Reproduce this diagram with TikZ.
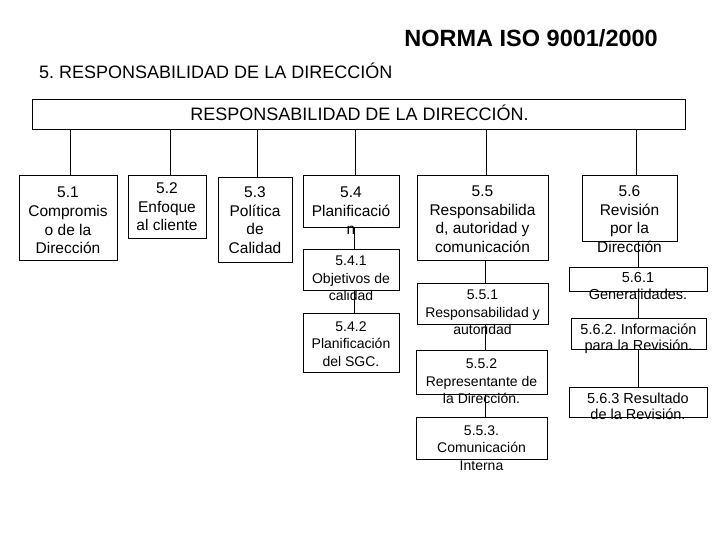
\documentclass[tikz,border=0pt]{standalone}
\usepackage{fontspec}
\setmainfont{Liberation Sans}
\frenchspacing
\begin{document}
\frenchspacing
\begin{tikzpicture}[x=1pt,y=-1pt,
  box/.style={draw=black,line width=0.9pt,inner sep=0pt,fill=none},
  txtA/.style={inner sep=0pt,align=center,anchor=north,font=\fontsize{15.5}{18.7}\selectfont},
  txtB/.style={inner sep=0pt,align=center,anchor=north,font=\fontsize{14}{17.5}\selectfont},
  txtC/.style={inner sep=0pt,align=center,anchor=north,font=\fontsize{14.5}{16.5}\selectfont},
  conn/.style={draw=black,line width=0.9pt}]
\useasboundingbox (0,0) rectangle (720,540);
% titles
\node[anchor=base east,inner sep=0pt,font=\fontsize{23.5}{27}\selectfont\bfseries] (title) at (658,47) {NORMA ISO 9001/2000};
\node[anchor=base west,inner sep=0pt,font=\fontsize{18}{22}\selectfont] (sub) at (39,78.5) {5. RESPONSABILIDAD DE LA DIRECCIÓN};
% top box
\node[box,minimum width=653,minimum height=30] (top) at (358.5,114) {};
\node[anchor=base,inner sep=0pt,font=\fontsize{18}{22}\selectfont] (toptxt) at (359.5,120.5) {RESPONSABILIDAD DE LA DIRECCIÓN.};
% first level boxes
\node[box,minimum width=98,minimum height=85] (b51) at (68,217.5) {};
\node[box,minimum width=78,minimum height=63] (b52) at (167,206.5) {};
\node[box,minimum width=74,minimum height=85] (b53) at (255,219.5) {};
\node[box,minimum width=96,minimum height=52] (b54) at (351,201) {};
\node[box,minimum width=131,minimum height=85] (b55) at (482.5,217.5) {};
\node[box,minimum width=95,minimum height=66] (b56) at (629.5,208) {};
% second level boxes
\node[box,minimum width=96,minimum height=41] (b541) at (351,269.5) {};
\node[box,minimum width=96,minimum height=59] (b542) at (351,342.5) {};
\node[box,minimum width=131,minimum height=41] (b551) at (482.5,303.5) {};
\node[box,minimum width=131,minimum height=44] (b552) at (481.5,372) {};
\node[box,minimum width=131,minimum height=42] (b553) at (481.5,438) {};
\node[box,minimum width=138,minimum height=24] (b561) at (638,279) {};
\node[box,minimum width=135,minimum height=31] (b562) at (638.5,333.5) {};
\node[box,minimum width=138,minimum height=30] (b563) at (638,402) {};
% texts
\node[txtA] (t51) at ([yshift=-12.4]b51.north) {5.1\\Compromis\\o de la\\Dirección};
\node[txtA] (t52) at ([yshift=-8]b52.north) {5.2\\Enfoque\\al cliente};
\node[txtA] (t53) at ([yshift=-10]b53.north) {5.3\\Política\\de\\Calidad};
\node[txtA] (t54) at ([yshift=-12]b54.north) {5.4\\Planificació\\n};
\node[txtA] (t55) at ([yshift=-11]b55.north) {5.5\\Responsabilida\\d, autoridad y\\comunicación};
\node[txtA] (t56) at ([yshift=-11]b56.north) {5.6\\Revisión\\por la\\Dirección};
\node[txtB] (t541) at ([yshift=-7.5]b541.north) {5.4.1\\Objetivos de\\calidad};
\node[txtB] (t542) at ([yshift=-8.5]b542.north) {5.4.2\\Planificación\\del SGC.};
\node[txtB] (t551) at ([yshift=-7.5]b551.north) {5.5.1\\Responsabilidad y\\autoridad};
\node[txtB] (t552) at ([yshift=-9]b552.north) {5.5.2\\Representante de\\la Dirección.};
\node[txtB] (t553) at ([yshift=-8.5]b553.north) {5.5.3.\\Comunicación\\Interna};
\node[txtC] (t561) at ([yshift=-6]b561.north) {5.6.1\\Generalidades.};
\node[txtC] (t562) at ([yshift=-6]b562.north) {5.6.2. Información\\para la Revisión.};
\node[txtC] (t563) at ([yshift=-6]b563.north) {5.6.3 Resultado\\de la Revisión.};
% connector x positions
\coordinate (k1) at (70,0);
\coordinate (k2) at (170,0);
\coordinate (k3) at (257,0);
\coordinate (k4) at (355,0);
\coordinate (k5) at (486,0);
\coordinate (k6) at (636,0);
\coordinate (c4) at (354,0);
\coordinate (c5) at (485,0);
\coordinate (c6) at (638,0);
% connectors from top box
\draw[conn] (top.south -| k1) -- (b51.north -| k1);
\draw[conn] (top.south -| k2) -- (b52.north -| k2);
\draw[conn] (top.south -| k3) -- (b53.north -| k3);
\draw[conn] (top.south -| k4) -- (b54.north -| k4);
\draw[conn] (top.south -| k5) -- (b55.north -| k5);
\draw[conn] (top.south -| k6) -- (b56.north -| k6);
% column connectors
\draw[conn] (b54.south -| c4) -- (b541.north -| c4);
\draw[conn] (b541.south -| c4) -- (b542.north -| c4);
\draw[conn] (b55.south -| c5) -- (b551.north -| c5);
\draw[conn] (b551.south -| c5) -- (b552.north -| c5);
\draw[conn] (b552.south -| c5) -- (b553.north -| c5);
\draw[conn] (b56.south -| c6) -- (b561.north -| c6);
\draw[conn] (b561.south -| c6) -- (b562.north -| c6);
\draw[conn] (b562.south -| c6) -- (b563.north -| c6);
\end{tikzpicture}
\end{document}
